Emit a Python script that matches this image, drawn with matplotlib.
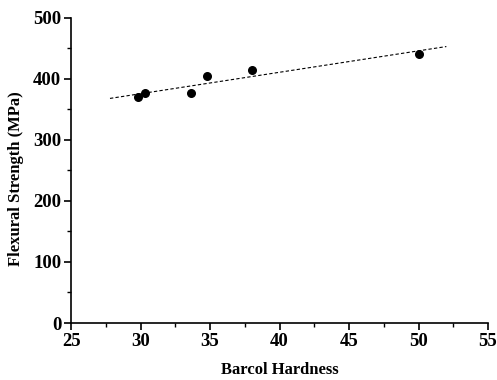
import matplotlib
matplotlib.use('Agg')
import matplotlib.pyplot as plt
from matplotlib.ticker import MultipleLocator

# data
hardness = [29.8, 30.3, 33.6, 34.8, 38.0, 50.0]
strength = [371, 377, 377, 404, 415, 441]
fit_x = [27.8, 52.0]
fit_y = [368, 453]

plt.rcParams['font.family'] = 'Liberation Serif'
plt.rcParams['font.weight'] = 'bold'

fig = plt.figure(figsize=(4.97, 3.8), dpi=100)
ax = fig.add_axes([0.143, 0.15, 0.839, 0.803])

ax.plot(fit_x, fit_y, linestyle=(0, (3, 2)), color='black', linewidth=0.8)
ax.scatter(hardness, strength, s=30, color='black', zorder=3)

ax.set_xlim(25, 55)
ax.set_ylim(0, 500)
ax.xaxis.set_major_locator(MultipleLocator(5))
ax.xaxis.set_minor_locator(MultipleLocator(2.5))
ax.yaxis.set_major_locator(MultipleLocator(100))
ax.yaxis.set_minor_locator(MultipleLocator(50))

for s in ['top', 'right']:
    ax.spines[s].set_visible(False)
for s in ['left', 'bottom']:
    ax.spines[s].set_linewidth(1.2)

ax.tick_params(which='major', length=5, width=1.2, labelsize=13.5, pad=2)
ax.tick_params(which='minor', length=3, width=1.0)

ax.set_xlabel('Barcol Hardness', fontsize=12, fontweight='bold', labelpad=9)
ax.set_ylabel('Flexural Strength (MPa)', fontsize=12, fontweight='bold')
ax.yaxis.set_label_coords(-0.112, 0.472)

plt.savefig('out.png', dpi=100)
